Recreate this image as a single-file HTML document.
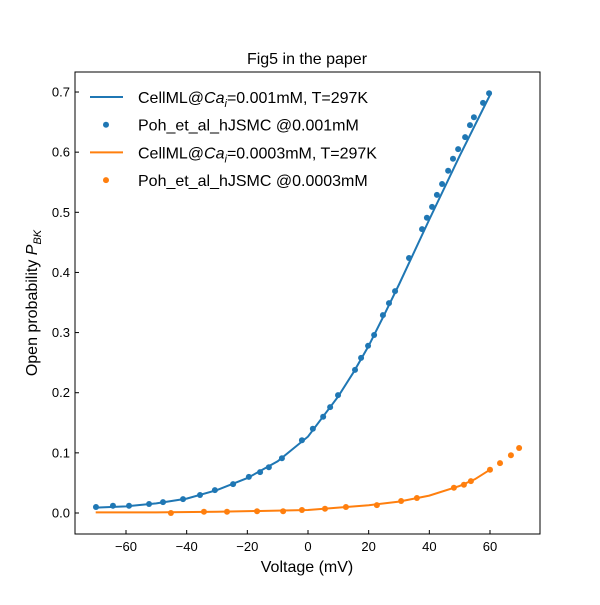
<!DOCTYPE html>
<html><head><meta charset="utf-8"><style>
body{margin:0;background:#fff}
svg{font-family:"Liberation Sans","DejaVu Sans",sans-serif}
</style></head><body>
<svg id="chart" width="600" height="600"></svg>
<script>
const blueDataV=[-69.9,-64.3,-59.0,-52.4,-47.8,-41.2,-35.6,-30.7,-24.7,-19.5,-15.8,-12.9,-8.6,-2.0,1.6,5.0,7.3,9.9,15.5,17.5,19.8,21.8,24.7,26.7,28.7,33.3,37.6,39.2,40.9,42.5,44.2,46.2,47.8,49.5,51.8,53.4,54.7,57.7,59.7];
const blueDataP=[.010,.012,.012,.015,.018,.023,.030,.038,.048,.060,.068,.076,.091,.121,.140,.160,.176,.196,.238,.258,.278,.296,.329,.349,.369,.424,.472,.491,.509,.529,.547,.569,.589,.605,.625,.645,.658,.682,.698];
const blueLineV=[-70,-60,-50,-40,-30,-20,-10,0,10,15,20,25,30,40,50,60];
const blueLineP=[.009,.011,.016,.024,.038,.058,.086,.127,.194,.234,.278,.328,.38,.488,.594,.695];
const orangeDataV=[-45.2,-34.3,-26.7,-16.8,-8.2,-2.0,5.6,12.5,22.7,30.7,35.9,48.1,51.4,53.7,60.0,63.3,66.9,69.6];
const orangeDataP=[.000,.002,.002,.003,.003,.005,.007,.010,.013,.020,.025,.042,.047,.053,.072,.083,.096,.108];
const orangeLineV=[-70,-50,-30,-10,0,10,20,30,40,50,55,60];
const orangeLineP=[.001,.001,.002,.004,.005,.009,.013,.019,.029,.045,.056,.072];
const xTicks=[-60,-40,-20,0,20,40,60];
const yTicks=[0,0.1,0.2,0.3,0.4,0.5,0.6,0.7];

const NS="http://www.w3.org/2000/svg";
const svg=document.getElementById('chart');
const X=v=>308+v*3.0333;
const Y=p=>513-p*601.4;
function mk(tag,attrs,parent){const e=document.createElementNS(NS,tag);for(const k in attrs)e.setAttribute(k,attrs[k]);(parent||svg).appendChild(e);return e;}

let t=mk('text',{x:307,y:64,'text-anchor':'middle','font-size':16});t.textContent='Fig5 in the paper';



const frame=mk('rect',{x:75,y:72,width:465,height:462,fill:'none',stroke:'#000','stroke-width':1});



xTicks.forEach(v=>{
  const l=mk('line',{x1:X(v),x2:X(v),y1:534,y2:530,stroke:'#000'});
  
  
  const tx=mk('text',{x:X(v),y:551,'text-anchor':'middle','font-size':13});
  tx.textContent=v<0?'\u2212'+Math.abs(v):String(v);
  
  
});
yTicks.forEach(p=>{
  const l=mk('line',{x1:75,x2:79,y1:Y(p),y2:Y(p),stroke:'#000'});
  
  
  const tx=mk('text',{x:70,y:Y(p)+4.5,'text-anchor':'end','font-size':13});
  tx.textContent=p.toFixed(1);
  
  
});
t=mk('text',{x:307,y:572,'text-anchor':'middle','font-size':16});t.textContent='Voltage (mV)';


t=mk('text',{x:0,y:0,'text-anchor':'middle','font-size':16,transform:'translate(37,303) rotate(-90)'});
t.innerHTML='Open probability <tspan font-style="italic">P</tspan><tspan font-style="italic" font-size="11" dy="4">BK</tspan>';



function line(vs,ps,color,name){
  const d=vs.map((v,i)=>(i?'L':'M')+X(v).toFixed(1)+','+Y(ps[i]).toFixed(1)).join('');
  const p=mk('path',{d:d,fill:'none',stroke:color,'stroke-width':2});
  
  
}
function dots(vs,ps,color,name){
  vs.forEach((v,i)=>{
    const c=mk('circle',{cx:X(v),cy:Y(ps[i]),r:3,fill:color});
    
    
  });
}
line(blueLineV,blueLineP,'#1f77b4','model-line-0.001mM');
dots(blueDataV,blueDataP,'#1f77b4','data-point-0.001mM');
line(orangeLineV,orangeLineP,'#ff7f0e','model-line-0.0003mM');
dots(orangeDataV,orangeDataP,'#ff7f0e','data-point-0.0003mM');

const leg=[['line','#1f77b4','CellML@<tspan font-style="italic">Ca</tspan><tspan font-style="italic" font-size="11" dy="4">i</tspan><tspan dy="-4">=0.001mM, T=297K</tspan>'],
 ['dot','#1f77b4','Poh_et_al_hJSMC @0.001mM'],
 ['line','#ff7f0e','CellML@<tspan font-style="italic">Ca</tspan><tspan font-style="italic" font-size="11" dy="4">i</tspan><tspan dy="-4">=0.0003mM, T=297K</tspan>'],
 ['dot','#ff7f0e','Poh_et_al_hJSMC @0.0003mM']];
leg.forEach((e,i)=>{
  const y=97+i*27.7;
  const g=mk('g',{});
  
  
  if(e[0]==='line')mk('line',{x1:90,x2:123,y1:y,y2:y,stroke:e[1],'stroke-width':2},g);
  else mk('circle',{cx:106,cy:y,r:3,fill:e[1]},g);
  const tx=mk('text',{x:138,y:y+6,'font-size':16},g);tx.innerHTML=e[2];
});
</script>
</body></html>
